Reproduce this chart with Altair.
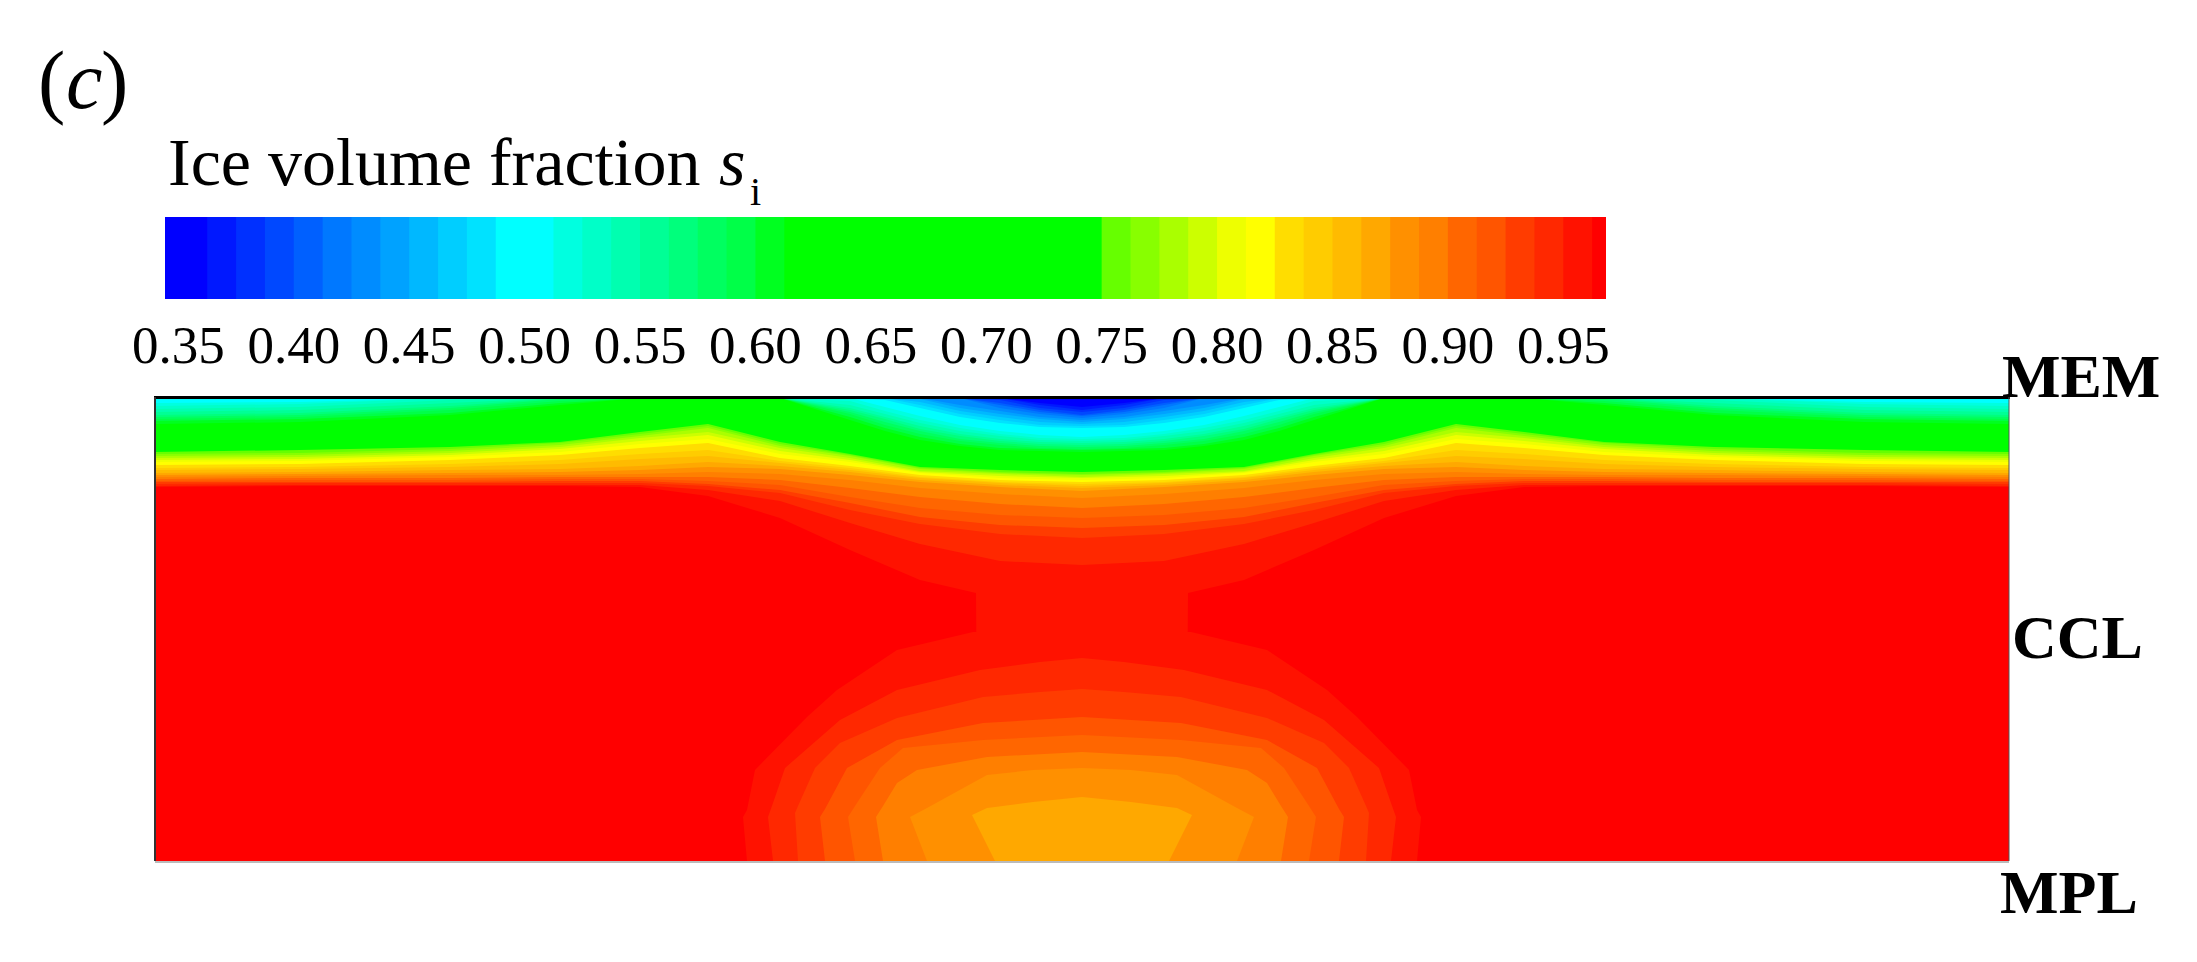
import altair as alt
import pandas as pd

# Colour legend: contour level edges and one colour per band
LEVEL_EDGES = [0.3442, 0.35, 0.3625, 0.375, 0.3875, 0.40, 0.4125, 0.425, 0.4375, 0.45, 0.4625, 0.475, 0.4875,
               0.50, 0.5125, 0.525, 0.5375, 0.55, 0.5625, 0.575, 0.5875, 0.60, 0.6125, 0.625, 0.6375, 0.65,
               0.6625, 0.675, 0.6875, 0.70, 0.7125, 0.725, 0.7375, 0.75, 0.7625, 0.775, 0.7875, 0.80, 0.8125,
               0.825, 0.8375, 0.85, 0.8625, 0.875, 0.8875, 0.90, 0.9125, 0.925, 0.9375, 0.95, 0.9625, 0.9685]
BAND_COLORS = ["#0000ff", "#0000ff", "#0018ff", "#0030ff", "#0048ff", "#0060ff", "#0078ff", "#008cff", "#00a2ff",
               "#00b8ff", "#00ceff", "#00e2ff", "#00ffff", "#00ffff", "#00ffe0", "#00ffc8", "#00ffb0", "#00ff96",
               "#00ff7c", "#00ff60", "#00ff48", "#00ff20", "#00ff00", "#00ff00", "#00ff00", "#00ff00", "#00ff00",
               "#00ff00", "#00ff00", "#00ff00", "#00ff00", "#00ff00", "#00ff00", "#66ff00", "#88ff00", "#aaff00",
               "#ccff00", "#eeff00", "#ffff00", "#ffdd00", "#ffcc00", "#ffbb00", "#ffa800", "#ff9000", "#ff7f00",
               "#ff6600", "#ff5500", "#ff3c00", "#ff2800", "#ff1200", "#ff0000"]
TICK_VALUES = [0.35, 0.40, 0.45, 0.50, 0.55, 0.60, 0.65, 0.70, 0.75, 0.80, 0.85, 0.90, 0.95]
TICK_LABELS = ["0.35", "0.40", "0.45", "0.50", "0.55", "0.60", "0.65", "0.70", "0.75", "0.80", "0.85", "0.90", "0.95"]

# Cell cross-section: width and depth of the domain
DOMAIN_X = 1854
DOMAIN_D = 463

# Contour depth from the MEM side, left half (the field is mirrored about the middle)
TOP_X = [0, 145, 295, 405, 485, 553, 625, 695, 765, 845, 927]
TOP_47 = [88, 87, 87, 87, 87, 92, 103, 125, 146, 163, 167]
TOP_46 = [86, 85, 85, 85, 85, 88, 95, 112, 126, 136, 140]
TOP_45 = [84, 84, 84, 83, 83, 86, 92, 105, 119, 127, 130]
TOP_44 = [83, 82, 82, 81, 81, 83, 87, 99, 110, 117, 120]
TOP_43 = [81, 80, 80, 79, 79, 79, 82, 90, 99, 106, 110]
TOP_42 = [79, 78, 77, 77, 76, 74, 76, 82, 90, 96, 100]
TOP_41 = [77, 76, 75, 74, 72, 69, 71, 77, 84, 89, 93]
TOP_40 = [75, 74, 72, 71, 68, 64, 68, 74, 82, 87, 90]
TOP_39 = [72, 71, 69, 66, 61, 58, 65, 72, 80, 85, 88]
TOP_38 = [70, 69, 66, 62, 56, 52, 63, 70, 79, 84, 86]
TOP_37 = [67, 66, 62, 57, 50, 45, 60, 68, 77, 82, 84]
TOP_36 = [64, 63, 59, 54, 46, 41, 56, 64, 75, 80, 82]
TOP_35 = [62, 61, 57, 51, 43, 37, 53, 62, 74, 78, 80]
TOP_34 = [60, 59, 55, 49, 40, 34, 50, 60, 73, 76, 79]
TOP_33 = [58, 57, 53, 47, 38, 30, 48, 58, 71, 75, 77]
TOP_32 = [56, 55, 51, 45, 36, 28, 46, 57, 70, 74, 76]
TOP_31 = [54, 52, 49, 44, 34, 26, 44, 56, 69, 72, 74]

# Shallow contours (cyan and blue) read at a closer spacing
COLD_X = [0, 145, 295, 405, 485, 553, 625, 695, 730, 765, 805, 845, 885, 927]
COLD_20 = [26, 24, 17, 7, 0, 0, 0, 22, 33, 42, 48, 52, 53, 54]
COLD_19 = [23, 21, 15, 5, 0, 0, 0, 19, 30, 39, 46, 50, 51, 52]
COLD_18 = [21, 19, 12, 3, 0, 0, 0, 16, 27, 36, 43, 47, 50, 51]
COLD_17 = [19, 17, 10, 1, 0, 0, 0, 14, 24, 33, 41, 45, 48, 49]
COLD_16 = [17, 15, 8, 0, 0, 0, 0, 12, 21, 31, 38, 43, 46, 47]
COLD_15 = [14, 12, 5, 0, 0, 0, 0, 10, 19, 28, 36, 41, 44, 45]
COLD_14 = [11, 9, 2, 0, 0, 0, 0, 7, 16, 25, 33, 38, 42, 43]
COLD_13 = [8, 6, 0, 0, 0, 0, 0, 3, 13, 22, 30, 36, 40, 41]
COLD_12 = [5, 4, 0, 0, 0, 0, 0, 0, 9, 18, 27, 33, 37, 39]
COLD_10 = [0, 0, 0, 0, 0, 0, 0, 0, 2, 10, 19, 25, 29, 30]
COLD_9 = [0, 0, 0, 0, 0, 0, 0, 0, 0, 7, 16, 22, 27, 28]
COLD_8 = [0, 0, 0, 0, 0, 0, 0, 0, 0, 4, 13, 19, 24, 26]
COLD_7 = [0, 0, 0, 0, 0, 0, 0, 0, 0, 1, 10, 16, 21, 24]
COLD_6 = [0, 0, 0, 0, 0, 0, 0, 0, 0, 0, 7, 13, 19, 22]
COLD_5 = [0, 0, 0, 0, 0, 0, 0, 0, 0, 0, 0, 10, 16, 20]
COLD_4 = [0, 0, 0, 0, 0, 0, 0, 0, 0, 0, 0, 7, 14, 18]
COLD_3 = [0, 0, 0, 0, 0, 0, 0, 0, 0, 0, 0, 5, 12, 17]
COLD_2 = [0, 0, 0, 0, 0, 0, 0, 0, 0, 0, 0, 2, 10, 14]
COLD_1 = [0, 0, 0, 0, 0, 0, 0, 0, 0, 0, 0, 0, 7, 12]
COLD_0 = [0, 0, 0, 0, 0, 0, 0, 0, 0, 0, 0, 0, 5, 9]

# Outermost contour that joins the upper bowl to the lower dome through the neck
NECK_X = [0, 145, 295, 405, 485, 553, 625, 695, 765, 821, 823, 927]
NECK_D = [89, 88, 88, 88, 89, 98, 120, 152, 182, 195, 463, 463]

# Contours of the dome rising from the MPL side, left half: upper and lower edge of each region
DOME_48_X = [588, 592, 600, 652, 682, 742, 818, 927]
DOME_48_U = [419, 412, 372, 319, 292, 252, 234, 234]
DOME_48_L = [419, 463, 463, 463, 463, 463, 463, 463]
DOME_47_X = [613, 618, 630, 685, 742, 825, 885, 927]
DOME_47_U = [419, 405, 370, 322, 292, 272, 264, 260]
DOME_47_L = [419, 463, 463, 463, 463, 463, 463, 463]
DOME_46_X = [640, 643, 660, 685, 742, 828, 885, 927]
DOME_46_U = [415, 408, 370, 345, 320, 299, 294, 291]
DOME_46_L = [415, 463, 463, 463, 463, 463, 463, 463]
DOME_45_X = [665, 670, 692, 742, 828, 927]
DOME_45_U = [419, 411, 370, 342, 325, 319]
DOME_45_L = [419, 463, 463, 463, 463, 463]
DOME_44_X = [693, 700, 725, 748, 828, 927]
DOME_44_U = [419, 408, 370, 350, 342, 337]
DOME_44_L = [419, 463, 463, 463, 463, 463]
DOME_43_X = [721, 728, 742, 762, 832, 927]
DOME_43_U = [419, 408, 385, 372, 359, 354]
DOME_43_L = [419, 463, 463, 463, 463, 463]
DOME_42_X = [755, 772, 792, 832, 878, 927]
DOME_42_U = [419, 410, 399, 377, 372, 370]
DOME_42_L = [419, 463, 463, 463, 463, 463]
DOME_41_X = [817, 832, 840, 878, 927]
DOME_41_U = [417, 410, 409, 404, 399]
DOME_41_L = [417, 447, 463, 463, 463]


def color_of(k):
    return BAND_COLORS[k + 1]


x_field = alt.Scale(domain=[-147, 2034])
y_field = alt.Scale(domain=[-390, 556], reverse=True)


def band_area(k, xs, d_from, d_to):
    full_x = xs + [DOMAIN_X - x for x in reversed(xs[:-1])]
    full_a = d_from + list(reversed(d_from[:-1]))
    full_b = d_to + list(reversed(d_to[:-1]))
    df = pd.DataFrame({"px": full_x, "da": full_a, "db": full_b})
    return alt.Chart(df).mark_area(color=color_of(k), opacity=1).encode(
        x=alt.X("px:Q", scale=x_field, axis=None),
        y=alt.Y("da:Q", scale=y_field, axis=None),
        y2=alt.Y2("db"),
    )


def top_area(k, xs, ds):
    return band_area(k, xs, [0] * len(xs), ds)


field_layers = [
    top_area(49, [0, 927], [DOMAIN_D, DOMAIN_D]),
    top_area(48, NECK_X, NECK_D),
    band_area(48, DOME_48_X, DOME_48_U, DOME_48_L),
    band_area(47, DOME_47_X, DOME_47_U, DOME_47_L),
    band_area(46, DOME_46_X, DOME_46_U, DOME_46_L),
    band_area(45, DOME_45_X, DOME_45_U, DOME_45_L),
    band_area(44, DOME_44_X, DOME_44_U, DOME_44_L),
    band_area(43, DOME_43_X, DOME_43_U, DOME_43_L),
    band_area(42, DOME_42_X, DOME_42_U, DOME_42_L),
    band_area(41, DOME_41_X, DOME_41_U, DOME_41_L),
]
for k, ds in [(47, TOP_47), (46, TOP_46), (45, TOP_45), (44, TOP_44), (43, TOP_43), (42, TOP_42), (41, TOP_41),
              (40, TOP_40), (39, TOP_39), (38, TOP_38), (37, TOP_37), (36, TOP_36), (35, TOP_35), (34, TOP_34),
              (33, TOP_33), (32, TOP_32), (31, TOP_31)]:
    field_layers.append(top_area(k, TOP_X, ds))
for k, ds in [(20, COLD_20), (19, COLD_19), (18, COLD_18), (17, COLD_17), (16, COLD_16), (15, COLD_15),
              (14, COLD_14), (13, COLD_13), (12, COLD_12), (10, COLD_10), (9, COLD_9), (8, COLD_8), (7, COLD_7),
              (6, COLD_6), (5, COLD_5), (4, COLD_4), (3, COLD_3), (2, COLD_2), (1, COLD_1), (0, COLD_0)]:
    field_layers.append(top_area(k, COLD_X, ds))

x_bar = alt.Scale(domain=[0.3442, 0.9685], range=[157, 1598])
# Each band runs to the end of the bar and the next band paints over it, so no seams show
bar_df = pd.DataFrame({"lo": LEVEL_EDGES[:-1], "hi": [LEVEL_EDGES[-1]] * len(BAND_COLORS), "color": BAND_COLORS,
                       "i": list(range(len(BAND_COLORS)))})
bar = alt.Chart(bar_df).mark_rect(strokeWidth=0).encode(
    x=alt.X("lo:Q", scale=x_bar, axis=None),
    x2="hi:Q",
    y=alt.value(209),
    y2=alt.value(291),
    color=alt.Color("color:N", scale=None),
    order=alt.Order("i:Q"),
)
ticks = alt.Chart(pd.DataFrame({"v": TICK_VALUES, "t": TICK_LABELS})).mark_text(
    font="Liberation Serif", fontSize=53, baseline="alphabetic", align="center", color="#000000"
).encode(x=alt.X("v:Q", scale=x_bar, axis=None), y=alt.value(355), text="t:N")


def label(text, x, y, size, weight="normal", style="normal"):
    return alt.Chart(pd.DataFrame({"t": [text]})).mark_text(
        font="Liberation Serif", fontSize=size, fontWeight=weight, fontStyle=style,
        baseline="alphabetic", align="left", color="#000000"
    ).encode(x=alt.value(x), y=alt.value(y), text="t:N")


def frame(x, x2, y, y2, color, width):
    return alt.Chart(pd.DataFrame({"a": [0]})).mark_rule(color=color, strokeWidth=width).encode(
        x=alt.value(x), x2=alt.value(x2), y=alt.value(y), y2=alt.value(y2)
    )


layers = field_layers + [
    frame(146, 2002, 389.5, 389.5, "#000000", 3),
    frame(147, 147, 389, 853, "#333333", 2),
    frame(2001, 2001, 389, 853, "#555555", 1),
    frame(147, 2001, 854, 854, "#bbbbbb", 2),
    bar,
    ticks,
    label("(", 30, 100, 82),
    label("c", 58, 100, 82, style="italic"),
    label(")", 93, 100, 82),
    label("Ice volume fraction", 160, 177, 68),
    label("s", 711, 177, 68, style="italic"),
    label("i", 742, 197, 40),
    label("MEM", 1994, 389, 62, weight="bold"),
    label("CCL", 2004, 650, 62, weight="bold"),
    label("MPL", 1992, 905, 62, weight="bold"),
]

chart = alt.layer(*layers).resolve_scale(x="independent", y="independent").properties(
    width=2181, height=946, padding=0, autosize=alt.AutoSizeParams(type="none"),
    background="#ffffff",
).configure_view(stroke=None)

chart.save("out.html", embed_options={"renderer": "svg", "actions": False})
